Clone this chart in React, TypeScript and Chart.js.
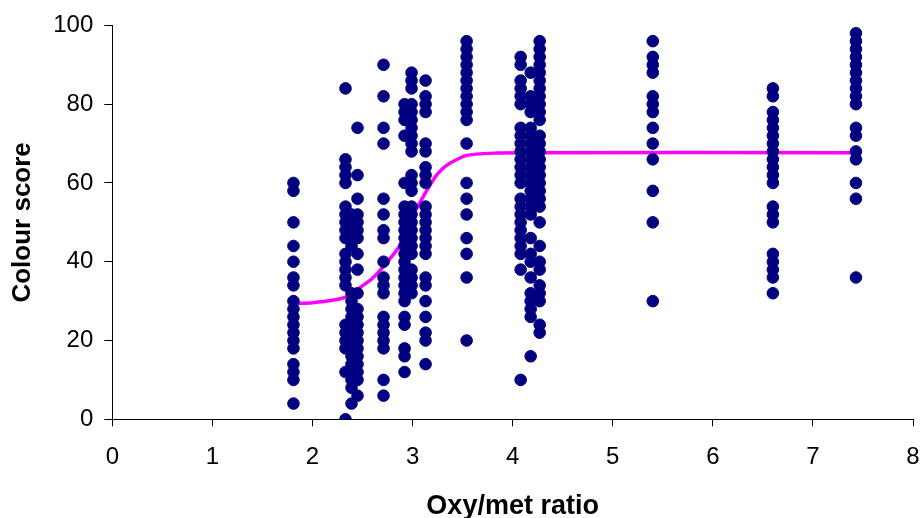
import React, { useEffect, useRef } from "react";
import { Chart, registerables } from "chart.js";

Chart.register(...registerables);

// x positions (Oxy/met ratio) of each column of observations
const xA = 1.81;
const xB1 = 2.33;
const xB2 = 2.39;
const xB3 = 2.45;
const xC = 2.71;
const xD1 = 2.92;
const xD2 = 2.99;
const xE = 3.13;
const xF = 3.54;
const xG1 = 4.08;
const xG2 = 4.18;
const xG3 = 4.27;
const xH = 5.4;
const xI = 6.6;
const xJ = 7.43;

// colour scores observed in each column
const scoresA = [60, 58, 50, 44, 40, 36, 34, 30, 28, 26, 24, 22, 20, 18, 14, 12, 10, 4];
const scoresB1 = [84, 66, 64, 62, 60, 54, 52, 50, 48, 46, 42, 40, 38, 36, 34, 24, 22, 20, 18, 12, 0];
const scoresB2 = [52, 50, 48, 46, 44, 32, 30, 28, 26, 24, 22, 20, 18, 16, 14, 12, 10, 8, 4];
const scoresB3 = [74, 62, 56, 52, 50, 48, 46, 42, 38, 32, 28, 26, 24, 22, 20, 18, 16, 14, 12, 10, 6];
const scoresC = [90, 82, 74, 70, 56, 52, 48, 46, 40, 36, 34, 32, 26, 24, 22, 20, 18, 10, 6];
const scoresD1 = [80, 78, 76, 72, 60, 54, 52, 50, 48, 46, 44, 42, 40, 38, 36, 34, 32, 30, 26, 24, 18, 16, 12];
const scoresD2 = [88, 86, 84, 80, 78, 76, 74, 72, 70, 68, 62, 60, 58, 54, 52, 50, 48, 46, 44, 42, 38, 36, 34, 32];
const scoresE = [86, 82, 80, 78, 70, 68, 64, 62, 60, 54, 52, 50, 48, 46, 44, 42, 36, 34, 30, 26, 22, 20, 14];
const scoresF = [96, 94, 92, 90, 88, 86, 84, 82, 80, 78, 76, 70, 60, 56, 52, 46, 42, 36, 20];
const scoresG1 = [92, 90, 86, 84, 82, 80, 74, 72, 70, 68, 66, 64, 62, 60, 56, 54, 52, 50, 48, 46, 44, 42, 38, 10];
const scoresG2 = [88, 82, 80, 78, 74, 72, 70, 68, 66, 64, 62, 60, 58, 56, 54, 52, 46, 42, 40, 36, 32, 30, 28, 26, 16];
const scoresG3 = [96, 94, 92, 90, 88, 86, 84, 82, 80, 78, 76, 72, 70, 68, 66, 64, 62, 60, 58, 56, 54, 50, 44, 40, 38, 34, 32, 30, 24, 22];
const scoresH = [96, 92, 90, 88, 82, 80, 78, 74, 70, 66, 58, 50, 30];
const scoresI = [84, 82, 78, 76, 74, 72, 70, 68, 66, 64, 62, 60, 54, 52, 50, 42, 40, 38, 36, 32];
const scoresJ = [98, 96, 94, 92, 90, 88, 86, 84, 82, 80, 74, 72, 68, 66, 60, 56, 36];

// fitted curve
const curveX = [1.81, 2.0, 2.2, 2.33, 2.45, 2.6, 2.71, 2.86, 2.94, 3.0, 3.14, 3.25, 3.36, 3.54, 3.84, 4.1, 7.43];
const curveY = [29.3, 29.6, 30.2, 31.0, 33.0, 35.8, 38.8, 43.6, 47.6, 51.5, 58.0, 62.3, 64.8, 67.0, 67.6, 67.7, 67.7];

const xTicksMin = 0;
const xTicksMax = 8;
const yTicksMin = 0;
const yTicksMax = 100;

const columns: [number, number[]][] = [
  [xA, scoresA],
  [xB1, scoresB1],
  [xB2, scoresB2],
  [xB3, scoresB3],
  [xC, scoresC],
  [xD1, scoresD1],
  [xD2, scoresD2],
  [xE, scoresE],
  [xF, scoresF],
  [xG1, scoresG1],
  [xG2, scoresG2],
  [xG3, scoresG3],
  [xH, scoresH],
  [xI, scoresI],
  [xJ, scoresJ],
];

const FONT = "'Liberation Sans', Arial, Helvetica, sans-serif";

export default function App() {
  const ref = useRef<HTMLCanvasElement | null>(null);

  useEffect(() => {
    if (!ref.current) return;
    const points = columns.flatMap(([x, ys]) => ys.map((y) => ({ x, y })));
    const curve = curveX.map((x, i) => ({ x, y: curveY[i] }));

    const chart = new Chart(ref.current, {
      type: "scatter",
      data: {
        datasets: [
          {
            type: "scatter",
            label: "Observed",
            data: points,
            backgroundColor: "#000080",
            borderColor: "#000080",
            borderWidth: 1,
            pointRadius: 5.8,
            order: 0,
          },
          {
            type: "line",
            label: "Fitted",
            data: curve,
            borderColor: "#ff00ff",
            borderWidth: 3.5,
            pointRadius: 0,
            tension: 0.2,
            fill: false,
            showLine: true,
            order: 1,
          } as any,
        ],
      },
      options: {
        animation: false,
        responsive: false,
        devicePixelRatio: 1,
        layout: { padding: { top: 23.5, right: 7, bottom: -5, left: 0 } },
        plugins: {
          legend: { display: false },
          tooltip: { enabled: false },
        },
        scales: {
          x: {
            type: "linear",
            min: xTicksMin,
            max: xTicksMax,
            afterFit: (s: any) => {
              s.height = 103.7;
              s.paddingLeft = 0;
              s.paddingRight = 0;
            },
            ticks: {
              stepSize: 1,
              color: "#000",
              padding: 17,
              font: { family: FONT, size: 24 },
            },
            grid: {
              display: true,
              drawOnChartArea: false,
              drawTicks: true,
              tickLength: 7,
              color: "#000",
              lineWidth: 1,
            },
            border: { display: true, color: "#000", width: 1 },
            title: {
              display: true,
              text: "Oxy/met ratio",
              color: "#000",
              font: { family: FONT, size: 27, weight: "bold" },
              padding: { top: 0, bottom: 0 },
            },
          },
          y: {
            type: "linear",
            min: yTicksMin,
            max: yTicksMax,
            afterFit: (s: any) => {
              s.width = 112.3;
            },
            ticks: {
              stepSize: 20,
              color: "#000",
              padding: 11,
              font: { family: FONT, size: 24 },
            },
            grid: {
              display: true,
              drawOnChartArea: false,
              drawTicks: true,
              tickLength: 8,
              color: "#000",
              lineWidth: 1,
            },
            border: { display: true, color: "#000", width: 1 },
            title: {
              display: true,
              text: "Colour score",
              color: "#000",
              font: { family: FONT, size: 26, weight: "bold" },
              padding: { top: 7, bottom: 0 },
            },
          },
        },
      },
    });
    return () => chart.destroy();
  }, []);

  return (
    <div style={{ position: "fixed", left: 0, top: 0, width: 920, height: 518, background: "#fff" }}>
      <canvas ref={ref} width={920} height={518} />
    </div>
  );
}
